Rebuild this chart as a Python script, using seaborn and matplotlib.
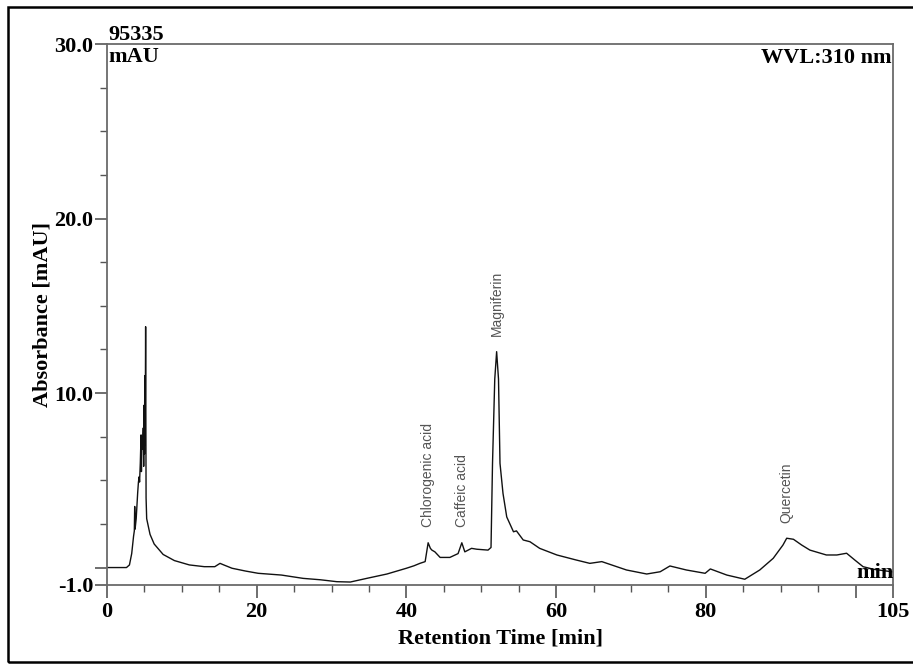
import matplotlib
matplotlib.use("Agg")
import matplotlib.pyplot as plt
from matplotlib.patches import Rectangle
from matplotlib.ticker import FixedLocator, MultipleLocator
import pandas as pd
import seaborn as sns


# chromatogram trace (minutes, mAU)
retention_time = [
    0.0, 2.6, 3.0, 3.3, 3.55, 3.65, 3.7, 3.75, 3.9, 4.1, 4.2, 4.3, 4.35,
    4.45, 4.55, 4.6, 4.65, 4.75, 4.85, 4.9, 4.95, 5.0, 5.05, 5.1, 5.16,
    5.22, 5.3, 5.75, 6.3, 7.5, 9.0, 11.0, 13.0, 14.4, 15.1, 15.6, 16.7,
    18.5, 20.2, 23.3, 26.2, 28.5, 30.7, 32.5, 34.7, 37.4, 40.0, 41.0,
    41.8, 42.5, 42.9, 43.2, 43.4, 43.8, 44.5, 45.8, 46.9, 47.4, 47.8,
    48.7, 49.4, 50.9, 51.3, 51.5, 51.8, 52.05, 52.3, 52.5, 52.9, 53.4,
    54.3, 54.7, 55.6, 56.5, 57.8, 60.1, 62.7, 64.5, 66.1, 69.4, 72.1,
    73.9, 75.2, 77.4, 79.9, 80.6, 82.8, 85.2, 87.2, 89.0, 90.3, 90.8,
    91.7, 92.8, 93.9, 96.1, 97.5, 98.8, 99.9, 101.0, 102.4, 105.0,
]
absorbance = [
    0.0, 0.0, 0.15, 0.8, 1.8, 2.1, 3.5, 2.2, 2.8, 4.3, 4.9, 5.2, 4.9,
    6.0, 7.6, 5.5, 7.4, 6.8, 8.0, 5.8, 9.3, 6.5, 11.0, 7.0, 13.8,
    4.0, 2.8, 1.9, 1.35, 0.75, 0.4, 0.15, 0.05, 0.05, 0.24, 0.15, -0.04,
    -0.2, -0.33, -0.43, -0.62, -0.7, -0.81, -0.83, -0.62, -0.37, -0.04, 0.1,
    0.24, 0.34, 1.42, 1.1, 1.0, 0.9, 0.58, 0.58, 0.8, 1.42, 0.9,
    1.1, 1.05, 1.0, 1.15, 5.97, 10.8, 12.37, 10.8, 5.97, 4.25, 2.9,
    2.05, 2.1, 1.58, 1.48, 1.1, 0.72, 0.43, 0.24, 0.34, -0.14, -0.37,
    -0.24, 0.09, -0.14, -0.33, -0.08, -0.43, -0.67, -0.14, 0.53, 1.29, 1.68,
    1.62, 1.29, 1.0, 0.72, 0.72, 0.82, 0.43, 0.05, -0.1, -0.25,
]

peak_names = ["Chlorogenic acid", "Caffeic acid", "Magniferin", "Quercetin"]
peak_times = [42.9, 47.4, 52.05, 90.8]
peak_heights = [1.42, 1.42, 12.37, 1.68]

x_major = [0, 20, 40, 60, 80, 100, 105]
x_major_labels = ["0", "20", "40", "60", "80", "", "105"]
y_major = [-1, 0, 10, 20, 30]
y_major_labels = ["-1.0", "", "10.0", "20.0", "30.0"]

sns.set_style("ticks")
plt.rcParams["font.family"] = ["Liberation Serif", "DejaVu Serif"]
plt.rcParams["text.color"] = "black"
plt.rcParams["axes.labelcolor"] = "black"

df = pd.DataFrame({"time": retention_time, "abs": absorbance})

fig = plt.figure(figsize=(9.13, 6.64), dpi=100)
ax = fig.add_axes([107 / 913, 1 - 585 / 664, 786 / 913, 541 / 664])

sns.lineplot(data=df, x="time", y="abs", ax=ax, color="#111111",
             linewidth=1.0, estimator=None, sort=False)

ax.set_xlim(0, 105)
ax.set_ylim(-1, 30)

ax.xaxis.set_major_locator(FixedLocator(x_major))
ax.set_xticklabels(x_major_labels)
ax.xaxis.set_minor_locator(MultipleLocator(5))
ax.yaxis.set_major_locator(FixedLocator(y_major))
ax.set_yticklabels(y_major_labels)
ax.yaxis.set_minor_locator(MultipleLocator(2.5))

ax.tick_params(which="major", direction="out", length=9, width=1.2,
               color="#555555", labelcolor="black", labelsize=16, pad=3)
ax.tick_params(which="minor", direction="out", length=5, width=1.0,
               color="#555555")
ax.tick_params(axis="y", which="major", pad=1)
for lbl in ax.get_xticklabels() + ax.get_yticklabels():
    lbl.set_fontweight("bold")

for side in ["left", "bottom", "top", "right"]:
    ax.spines[side].set_visible(True)
    ax.spines[side].set_color("#6a6a6a")
    ax.spines[side].set_linewidth(1.3)

ax.set_xlabel("Retention Time [min]", fontsize=16, fontweight="bold",
              labelpad=5)
ax.set_ylabel("Absorbance [mAU]", fontsize=16, fontweight="bold",
              labelpad=1)

for name, t, h in zip(peak_names, peak_times, peak_heights):
    ax.annotate(name, xy=(t, h), xytext=(0, 11), textcoords="offset points",
                rotation=90, ha="center", va="bottom", fontsize=10,
                color="#555555", family=["Liberation Sans", "DejaVu Sans"])

fig.text(108 / 913, 1 - 40 / 664, "95335", ha="left", va="baseline",
         fontsize=16, fontweight="bold")
fig.text(108 / 913, 1 - 62 / 664, "mAU", ha="left", va="baseline",
         fontsize=16, fontweight="bold")
fig.text(892 / 913, 1 - 63 / 664, "WVL:310 nm", ha="right", va="baseline",
         fontsize=16, fontweight="bold")
fig.text(894 / 913, 1 - 578 / 664, "min", ha="right", va="baseline",
         fontsize=16, fontweight="bold")

fig.patches.append(Rectangle((8 / 913, 1 - 662 / 664), 920 / 913, 655 / 664,
                             transform=fig.transFigure, fill=False,
                             linewidth=1.8, edgecolor="black"))

fig.savefig("out.png", dpi=100)
